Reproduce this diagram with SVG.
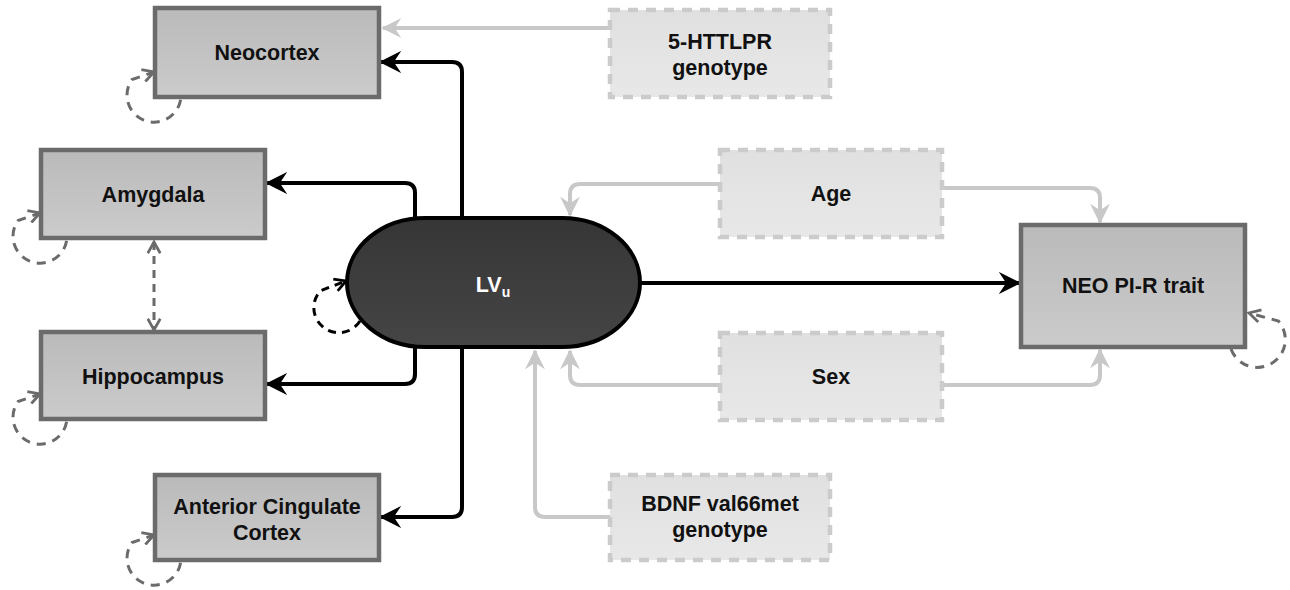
<svg xmlns="http://www.w3.org/2000/svg" width="1290" height="590" viewBox="0 0 1290 590">
<style>
text{font-family:"Liberation Sans",Arial,sans-serif;font-weight:bold;font-size:21.5px;fill:#111;text-anchor:middle}
.box{fill:url(#gBox);stroke:#6b6b6b;stroke-width:4.5}
.cov{fill:url(#gCov);stroke:#cbcbcb;stroke-width:4.5;stroke-dasharray:10 8}
.blk{fill:none;stroke:#000;stroke-width:4;marker-end:url(#aBlk)}
.gry{fill:none;stroke:#c8c8c8;stroke-width:4;marker-end:url(#aGry)}
.loop{fill:none;stroke:#6b6b6b;stroke-width:3;stroke-dasharray:9 7;marker-end:url(#aLoop)}
</style>
<defs>
<linearGradient id="gBox" x1="0" y1="0" x2="0" y2="1"><stop offset="0" stop-color="#bababa"/><stop offset="1" stop-color="#cbcbcb"/></linearGradient>
<linearGradient id="gCov" x1="0" y1="0" x2="0" y2="1"><stop offset="0" stop-color="#e0e0e0"/><stop offset="1" stop-color="#e8e8e8"/></linearGradient>
<linearGradient id="gLV" x1="0" y1="0" x2="0" y2="1"><stop offset="0" stop-color="#363636"/><stop offset="1" stop-color="#454545"/></linearGradient>
<marker id="aBlk" viewBox="0 0 12 12" refX="11" refY="6" markerWidth="5.5" markerHeight="5.5" orient="auto" markerUnits="strokeWidth"><path d="M0,0 L12,6 L0,12 L4,6 z" fill="#000"/></marker>
<marker id="aGry" viewBox="0 0 12 12" refX="11" refY="6" markerWidth="5" markerHeight="5" orient="auto" markerUnits="strokeWidth"><path d="M0,0 L12,6 L0,12 L4,6 z" fill="#c8c8c8"/></marker>
<marker id="aLoop" viewBox="0 0 12 12" refX="10" refY="6" markerWidth="5" markerHeight="5" orient="auto" markerUnits="strokeWidth"><path d="M1,1 L10,6 L1,11" fill="none" stroke="#6b6b6b" stroke-width="2.2"/></marker>
<marker id="aLoopB" viewBox="0 0 12 12" refX="10" refY="6" markerWidth="5" markerHeight="5" orient="auto" markerUnits="strokeWidth"><path d="M1,1 L10,6 L1,11" fill="none" stroke="#000" stroke-width="2.2"/></marker>
<marker id="aDbl" viewBox="0 0 12 12" refX="10" refY="6" markerWidth="5" markerHeight="5" orient="auto-start-reverse" markerUnits="strokeWidth"><path d="M1,1 L10,6 L1,11" fill="none" stroke="#6b6b6b" stroke-width="2.2"/></marker>
</defs>

<g id="connectors">
<path class="gry" d="M610 28 L383 28"/>
<path class="gry" d="M720 184 L580 184 Q570 184 570 194 L570 215"/>
<path class="gry" d="M720 385 L580 385 Q570 385 570 375 L570 351"/>
<path class="gry" d="M610 517 L545 517 Q535 517 535 507 L535 351"/>
<path class="gry" d="M942 188 L1090 188 Q1100 188 1100 198 L1100 222"/>
<path class="gry" d="M942 385 L1090 385 Q1100 385 1100 375 L1100 350"/>
<path class="blk" d="M462 222 L462 72 Q462 62 452 62 L381 62"/>
<path class="blk" d="M415 222 L415 193 Q415 183 405 183 L267 183"/>
<path class="blk" d="M415 343 L415 374 Q415 384 405 384 L267 384"/>
<path class="blk" d="M462 343 L462 507 Q462 517 452 517 L381 517"/>
<path class="blk" d="M640 283 L1019 283"/>
<path d="M154 242 L154 330" fill="none" stroke="#6b6b6b" stroke-width="3" stroke-dasharray="8 6" marker-start="url(#aDbl)" marker-end="url(#aDbl)"/>
<path class="loop" d="M180.6 99.7 A27 27 0 1 1 132 79.5 L154 72"/>
<path class="loop" d="M66.6 240.7 A27 27 0 1 1 18 220.5 L40 213"/>
<path class="loop" d="M66.6 421.7 A27 27 0 1 1 18 401.5 L40 394"/>
<path class="loop" d="M180.6 562.7 A27 27 0 1 1 132 542.5 L154 535"/>
<path class="loop" d="M1231 349 A28 28 0 1 0 1278.4 321 L1249 313"/>
<path d="M360 321 A25 25 0 1 1 320.5 290.7 L346 281" fill="none" stroke="#000" stroke-width="3" stroke-dasharray="8 6" marker-end="url(#aLoopB)"/>
</g>

<g id="neocortex"><rect class="box" x="155" y="8" width="224" height="89"/><text x="267" y="60">Neocortex</text></g>
<g id="amygdala"><rect class="box" x="41" y="150" width="224" height="88"/><text x="153" y="202">Amygdala</text></g>
<g id="hippocampus"><rect class="box" x="41" y="332" width="224" height="87"/><text x="153" y="384">Hippocampus</text></g>
<g id="acc"><rect class="box" x="155" y="475" width="224" height="85"/><text x="267" y="514">Anterior Cingulate</text><text x="267" y="540">Cortex</text></g>
<g id="httlpr"><rect class="cov" x="610" y="10" width="220" height="87"/><text x="720" y="49">5-HTTLPR</text><text x="720" y="75">genotype</text></g>
<g id="age"><rect class="cov" x="720" y="150" width="222" height="87"/><text x="831" y="201">Age</text></g>
<g id="sex"><rect class="cov" x="720" y="333" width="222" height="87"/><text x="831" y="384">Sex</text></g>
<g id="bdnf"><rect class="cov" x="610" y="475" width="220" height="85"/><text x="720" y="511">BDNF val66met</text><text x="720" y="537">genotype</text></g>
<g id="neo"><rect class="box" x="1021" y="225" width="224" height="122"/><text x="1133" y="293">NEO PI-R trait</text></g>
<g id="lvu"><rect x="347" y="218" width="293" height="129" rx="78" ry="64.5" fill="url(#gLV)" stroke="#000" stroke-width="4"/><text x="493" y="292" style="fill:#fff">LV<tspan font-size="14" dy="5">u</tspan></text></g>
</svg>
